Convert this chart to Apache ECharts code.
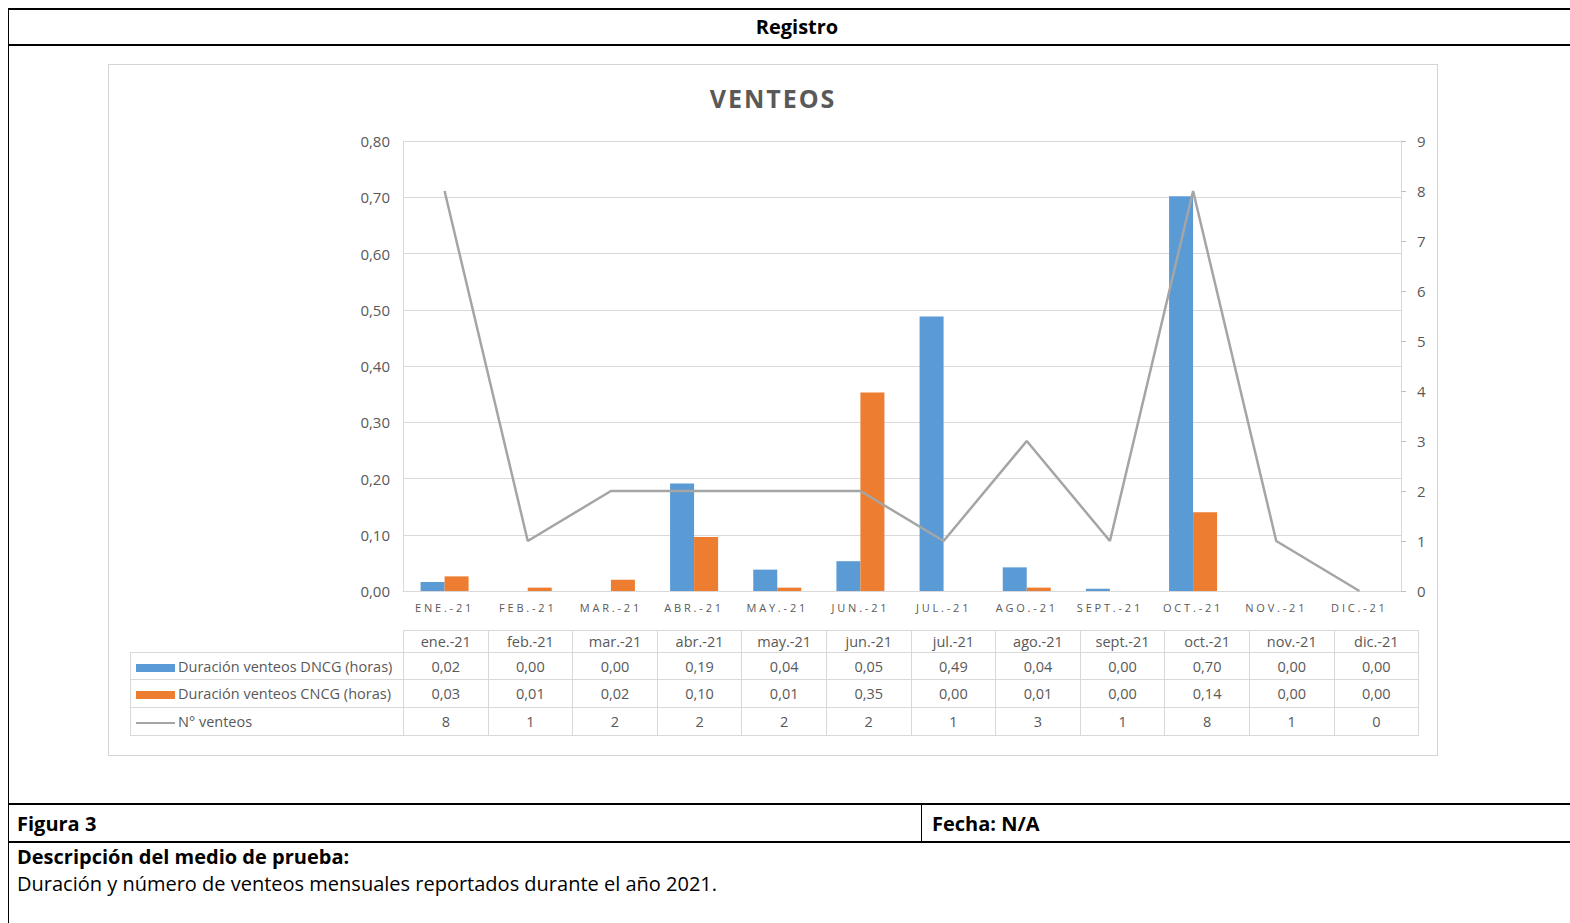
<!DOCTYPE html>
<html>
<head>
<meta charset="utf-8">
<script src="https://cdn.jsdelivr.net/npm/echarts@6/dist/echarts.min.js"></script>
<style>
  body { margin: 0; width: 1570px; height: 923px; position: relative; background: #fff; overflow: hidden;
         font-family: 'Open Sans', sans-serif; }
  .hline { position: absolute; left: 8px; right: 0; height: 2px; background: #000; }
  .vline { position: absolute; width: 2px; background: #000; }
  .doc { position: absolute; font-size: 20px; color: #000; line-height: 24px; white-space: nowrap; }
  .b { font-weight: bold; }
  #box { position: absolute; left: 108px; top: 64px; width: 1328px; height: 690px; border: 1px solid #d4d4d4; }
  #chart { position: absolute; left: 109px; top: 65px; width: 1328px; height: 690px; }
  table.data { position: absolute; left: 130px; top: 630px; border-collapse: collapse; table-layout: fixed;
               font-size: 14.5px; color: #595959; }
  table.data td { border: 1px solid #d9d9d9; text-align: center; padding: 0; white-space: nowrap; }
  table.data td.lab { text-align: left; }
  table.data td.blank { border: none; }
  .sw { display: inline-block; width: 39px; margin: 0 3px 0 5px; vertical-align: middle; }
</style>
</head>
<body>
<div class="hline" style="top:8px"></div>
<div class="hline" style="top:44px"></div>
<div class="vline" style="left:8px;top:8px;height:915px;width:1px"></div>
<div class="doc b" style="left:0;width:1594px;text-align:center;top:15px">Registro</div>

<div id="box"></div>
<div id="chart"></div>
<table class="data" id="tbl"></table>

<div class="hline" style="top:803px"></div>
<div class="vline" style="left:921px;top:803px;height:39px;width:1px"></div>
<div class="hline" style="top:841px"></div>
<div class="doc b" style="left:17px;top:812px">Figura 3</div>
<div class="doc b" style="left:932px;top:812px">Fecha: N/A</div>
<div class="doc b" style="left:17px;top:845px">Descripción del medio de prueba:</div>
<div class="doc" style="left:17px;top:872px">Duración y número de venteos mensuales reportados durante el año 2021.</div>

<script>
// data
const months = ['ene.-21', 'feb.-21', 'mar.-21', 'abr.-21', 'may.-21', 'jun.-21',
                'jul.-21', 'ago.-21', 'sept.-21', 'oct.-21', 'nov.-21', 'dic.-21'];
const durDNCG = [0.016, 0, 0, 0.191, 0.038, 0.053, 0.488, 0.042, 0.004, 0.702, 0, 0];
const durCNCG = [0.026, 0.006, 0.02, 0.096, 0.006, 0.353, 0, 0.006, 0, 0.14, 0, 0];
const nVenteos = [8, 1, 2, 2, 2, 2, 1, 3, 1, 8, 1, 0];

const seriesNames = ['Duración venteos DNCG (horas)', 'Duración venteos CNCG (horas)', 'N° venteos'];
const colors = ['#5b9bd5', '#ed7d31', '#a5a5a5'];

const fmt = v => v.toFixed(2).replace('.', ',');

// data table under the chart
const tbl = document.getElementById('tbl');
let html = '<colgroup><col style="width:273px">';
months.forEach(() => { html += '<col style="width:84.6px">'; });
html += '</colgroup>';
html += '<tr style="height:22px"><td class="blank"></td>' + months.map(m => '<td>' + m + '</td>').join('') + '</tr>';
const rows = [durDNCG.map(fmt), durCNCG.map(fmt), nVenteos.map(String)];
const heights = [27, 28, 28];
rows.forEach((r, i) => {
  const sw = i < 2
    ? '<span class="sw" style="height:8px;background:' + colors[i] + '"></span>'
    : '<span class="sw" style="height:2px;background:' + colors[i] + '"></span>';
  html += '<tr style="height:' + heights[i] + 'px"><td class="lab">' + sw + seriesNames[i] + '</td>' +
          r.map(v => '<td>' + v + '</td>').join('') + '</tr>';
});
tbl.innerHTML = html;

const myChart = echarts.init(document.getElementById('chart'), null, { renderer: 'svg' });

const option = {
  animation: false,
  textStyle: { fontFamily: 'Open Sans' },
  title: {
    text: 'VENTEOS',
    left: 'center',
    top: 15,
    textStyle: { color: '#595959', fontSize: 25, fontWeight: 'bold', fontFamily: 'Open Sans' }
  },
  grid: { left: 294, right: 36, top: 76, bottom: 164 },
  xAxis: {
    type: 'category',
    data: months,
    axisLine: { lineStyle: { color: '#d9d9d9' } },
    axisTick: { show: false },
    axisLabel: { formatter: v => v.toUpperCase(), color: '#595959', fontSize: 11, margin: 11 }
  },
  yAxis: [
    {
      type: 'value', min: 0, max: 0.8, interval: 0.1,
      axisLine: { show: true, lineStyle: { color: '#d9d9d9' } },
      axisTick: { show: false },
      splitLine: { lineStyle: { color: '#d9d9d9' } },
      axisLabel: { formatter: fmt, color: '#595959', fontSize: 15, margin: 13 }
    },
    {
      type: 'value', min: 0, max: 9, interval: 1, position: 'right',
      axisLine: { show: true, lineStyle: { color: '#d9d9d9' } },
      axisTick: { show: true, length: 5, lineStyle: { color: '#bfbfbf' } },
      splitLine: { show: false },
      axisLabel: { color: '#595959', fontSize: 15, margin: 16 }
    }
  ],
  series: [
    { name: seriesNames[0], type: 'bar', data: durDNCG, barWidth: 24, barGap: '0%', itemStyle: { color: colors[0] } },
    { name: seriesNames[1], type: 'bar', data: durCNCG, barWidth: 24, barGap: '0%', itemStyle: { color: colors[1] } },
    { name: seriesNames[2], type: 'line', yAxisIndex: 1, data: nVenteos, symbol: 'none',
      lineStyle: { color: colors[2], width: 2.5 } }
  ]
};

myChart.setOption(option);

// Excel spaces out the title and month labels; add that to the svg text
const upperMonths = months.map(m => m.toUpperCase());
document.querySelectorAll('#chart svg text').forEach(t => {
  const s = t.textContent;
  if (s === 'VENTEOS') t.style.letterSpacing = '2px';
  else if (upperMonths.includes(s)) t.style.letterSpacing = '2.8px';
});
</script>
</body>
</html>
